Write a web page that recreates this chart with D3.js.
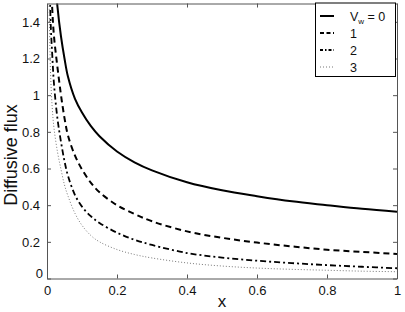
<!DOCTYPE html>
<html>
<head>
<meta charset="utf-8">
<script src="https://cdn.jsdelivr.net/npm/d3@7"></script>
<style>
  html, body { margin: 0; padding: 0; background: #fff; }
  svg { display: block; font-family: "Liberation Sans", Arial, Helvetica, sans-serif; }
</style>
</head>
<body>
<svg id="chart" width="405" height="312"></svg>
<script>
// ---- data ----
const xValues = [0.005, 0.01, 0.015, 0.02, 0.03, 0.04, 0.05, 0.06, 0.08, 0.1, 0.125, 0.15, 0.2, 0.25, 0.3, 0.4, 0.5, 0.6, 0.7, 0.8, 0.9, 1.0];
const fluxV0 = [3.0, 2.3, 1.95, 1.74, 1.48, 1.32, 1.20, 1.10, 0.98, 0.905, 0.832, 0.776, 0.693, 0.634, 0.590, 0.525, 0.481, 0.449, 0.421, 0.400, 0.380, 0.364];
const fluxV1 = [2.3, 1.72, 1.47, 1.32, 1.15, 1.0, 0.875, 0.78, 0.67, 0.595, 0.523, 0.47, 0.40, 0.352, 0.312, 0.257, 0.222, 0.196, 0.175, 0.157, 0.145, 0.134];
const fluxV2 = [2.0, 1.42, 1.22, 1.06, 0.87, 0.745, 0.64, 0.56, 0.455, 0.392, 0.34, 0.303, 0.25, 0.211, 0.183, 0.139, 0.114, 0.097, 0.084, 0.073, 0.064, 0.056];
const fluxV3 = [1.65, 1.13, 0.93, 0.82, 0.69, 0.595, 0.51, 0.45, 0.355, 0.29, 0.235, 0.20, 0.158, 0.131, 0.112, 0.085, 0.068, 0.057, 0.050, 0.045, 0.040, 0.037];
const seriesNames = ["0", "1", "2", "3"];
const xTicks = [0, 0.2, 0.4, 0.6, 0.8, 1];
const yTicks = [0, 0.2, 0.4, 0.6, 0.8, 1, 1.2, 1.4];
const xLabel = "x";
const yLabel = "Diffusive flux";

// ---- layout ----
const svg = d3.select("#chart");
const pLeft = 47, pRight = 397, pTop = 3.5, pBottom = 278.5;
const x = d3.scaleLinear().domain([0, 1]).range([pLeft, pRight]);
const y = d3.scaleLinear().domain([0, 1.5]).range([pBottom, pTop]);

const styles = [
  { stroke: "#000", width: 2, dash: null },
  { stroke: "#000", width: 2, dash: "6,4" },
  { stroke: "#000", width: 1.8, dash: "6,3,2,3" },
  { stroke: "#777", width: 1, dash: "1,2" }
];
const allSeries = [fluxV0, fluxV1, fluxV2, fluxV3];

svg.append("defs").append("clipPath").attr("id", "plotclip")
  .append("rect").attr("x", pLeft).attr("y", pTop).attr("width", pRight - pLeft).attr("height", pBottom - pTop);

const line = d3.line()
  .x(d => x(d[0]))
  .y(d => y(d[1]))
  .curve(d3.curveCatmullRom.alpha(0.5));

const g = svg.append("g").attr("clip-path", "url(#plotclip)");
allSeries.forEach((vals, i) => {
  const pts = xValues.map((xv, k) => [xv, vals[k]]);
  g.append("path")
    .attr("d", line(pts))
    .attr("fill", "none")
    .attr("stroke", styles[i].stroke)
    .attr("stroke-width", styles[i].width)
    .attr("stroke-dasharray", styles[i].dash);
});

// ---- axes (box with inward ticks on all sides) ----
const axisColor = "#555";
const tickLen = 4;
const axBottom = d3.axisBottom(x).tickValues(xTicks).tickSizeInner(-tickLen).tickSizeOuter(0).tickFormat(d3.format("~g")).tickPadding(7);
const axTop = d3.axisTop(x).tickValues(xTicks).tickSizeInner(-tickLen).tickSizeOuter(0).tickFormat("");
const axLeft = d3.axisLeft(y).tickValues(yTicks).tickSizeInner(-tickLen).tickSizeOuter(0).tickFormat(d3.format("~g")).tickPadding(7);
const axRight = d3.axisRight(y).tickValues(yTicks).tickSizeInner(-tickLen).tickSizeOuter(0).tickFormat("");

function styleAxis(sel) {
  sel.select(".domain").attr("stroke", axisColor).attr("stroke-width", 1);
  sel.selectAll(".tick line").attr("stroke", axisColor);
  sel.selectAll(".tick text").attr("fill", "#111").attr("font-size", 13)
     .attr("font-family", "Liberation Sans, Arial, sans-serif");
}
svg.append("g").attr("transform", `translate(0,${pBottom})`).call(axBottom).call(styleAxis);
svg.append("g").attr("transform", `translate(0,${pTop})`).call(axTop).call(styleAxis);
const gl = svg.append("g").attr("transform", `translate(${pLeft},0)`).call(axLeft).call(styleAxis);
svg.append("g").attr("transform", `translate(${pRight},0)`).call(axRight).call(styleAxis);
// MATLAB-style: lift the y "0" label
gl.selectAll(".tick").filter(d => d === 0).select("text").attr("dy", "-0.1em").attr("x", -4);

// ---- axis labels ----
svg.append("text").attr("x", (pLeft + pRight) / 2).attr("y", 307)
  .attr("text-anchor", "middle").attr("font-size", 17).attr("fill", "#111").text(xLabel);
svg.append("text").attr("transform", `translate(17,155) rotate(-90)`)
  .attr("text-anchor", "middle").attr("font-size", 18).attr("fill", "#111").text(yLabel);

// ---- legend ----
const lg = svg.append("g");
lg.append("rect").attr("x", 315.5).attr("y", 3).attr("width", 80).attr("height", 73.5)
  .attr("fill", "#fff").attr("stroke", "#000").attr("stroke-width", 1);
const rowY = [16, 33, 50, 67];
seriesNames.forEach((name, i) => {
  lg.append("line").attr("x1", 320).attr("x2", 334).attr("y1", rowY[i]).attr("y2", rowY[i])
    .attr("stroke", styles[i].stroke).attr("stroke-width", styles[i].width)
    .attr("stroke-dasharray", i === 1 ? "4,2.5" : i === 2 ? "3,2,1.5,2" : styles[i].dash);
  const t = lg.append("text").attr("x", 350).attr("y", rowY[i] + 4.5).attr("font-size", 12.5).attr("fill", "#111");
  if (i === 0) {
    t.append("tspan").text("V");
    t.append("tspan").attr("font-size", 8).attr("dy", 3).text("w");
    t.append("tspan").attr("dy", -3).text(" = " + name);
  } else {
    t.text(name);
  }
});
</script>
</body>
</html>
